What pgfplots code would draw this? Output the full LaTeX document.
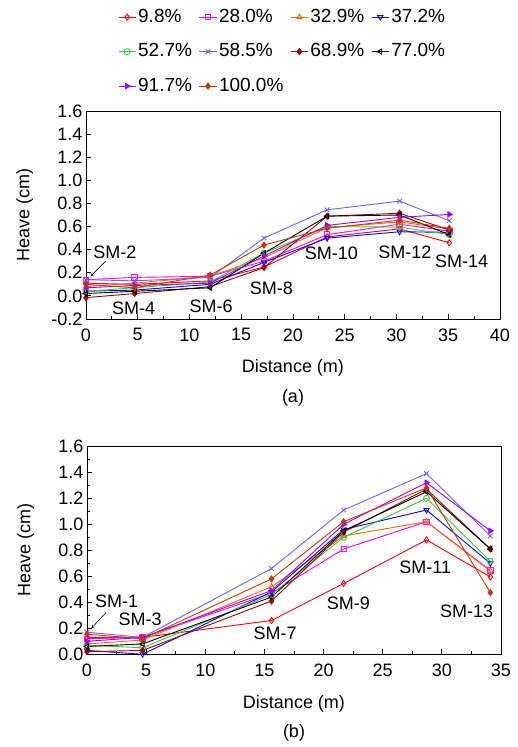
\documentclass[border=0pt]{standalone}
\usepackage{fontspec}
\setmainfont{Liberation Sans}
\usepackage{pgfplots}
\pgfplotsset{compat=1.18}
\definecolor{c98}{RGB}{255,0,0}
\definecolor{c280}{RGB}{255,0,255}
\definecolor{c329}{RGB}{255,102,0}
\definecolor{c372}{RGB}{0,0,255}
\definecolor{c527}{RGB}{51,204,51}
\definecolor{c585}{RGB}{102,102,255}
\definecolor{c689}{RGB}{153,0,0}
\definecolor{c770}{RGB}{0,0,0}
\definecolor{c917}{RGB}{153,0,255}
\definecolor{c100}{RGB}{204,51,0}
\pgfplotsset{
  heave/.style={
    scale only axis, width=414pt, height=208pt,
    axis line style={line width=0.9pt},
    tick align=inside, xtick pos=left, ytick pos=left,
    minor x tick num=1, minor y tick num=1,
    major tick length=5pt, minor tick length=3pt,
    every tick/.style={black, line width=0.8pt},
    /pgf/number format/assume math mode=true,
    yticklabel style={/pgf/number format/.cd, fixed, fixed zerofill, precision=1},
    xticklabel style={yshift=-6pt},
    xlabel={Distance (m)}, ylabel={Heave (cm)},
    xlabel style={at={(axis description cs:0.5,-0.236)}, anchor=center},
    ylabel style={at={(axis description cs:-0.148,0.5)}, anchor=center},
    clip=false,
    every axis plot/.append style={line width=0.9pt, mark size=3pt},
  },
  s98/.style={color=c98, mark=diamond, mark options={fill=white, solid}},
  s280/.style={color=c280, mark=square, mark options={fill=white, solid, scale=0.9}},
  s329/.style={color=c329, mark=triangle, mark options={fill=white, solid}},
  s372/.style={color=c372, mark=triangle, mark options={fill=white, solid, rotate=180}},
  s527/.style={color=c527, mark=o, mark options={fill=white, solid}},
  s585/.style={color=c585, mark=x, mark options={solid, scale=1.1}},
  s689/.style={color=c689, mark=diamond*, mark options={solid}},
  s770/.style={color=c770, mark=triangle, mark options={fill=white, solid, rotate=90}},
  s917/.style={color=c917, mark=triangle*, mark options={solid, rotate=-90}},
  s100/.style={color=c100, mark=diamond*, mark options={solid}},
}
\begin{document}
\begin{tikzpicture}[font=\fontsize{18}{21}\selectfont]
\useasboundingbox (0,0) rectangle (517pt,747pt);
% ---------- (a) ----------
\begin{axis}[heave, at={(86pt,428pt)}, anchor=south west,
  xmin=0, xmax=40, ymin=-0.2, ymax=1.6,
  xtick={0,5,...,40}, ytick={-0.2,0,0.2,...,1.6},
  legend columns=4,
  legend style={at={(axis description cs:0.07,1.51)}, anchor=north west,
    draw=none, fill=none, font=\fontsize{19}{22}\selectfont,
    nodes={text height=13pt, text depth=3pt},
    /tikz/every even column/.append style={column sep=5pt},
    /tikz/row sep=14.5pt},
  legend cell align=left]
\addplot[s98] coordinates {(0,0.11) (4.7,0.10) (12,0.13) (17.2,0.25) (23.3,0.51) (30.3,0.58) (35.1,0.46)};
\addlegendentry{9.8\%}
\addplot[s280] coordinates {(0,0.14) (4.7,0.16) (12,0.17) (17.2,0.30) (23.3,0.53) (30.3,0.62) (35.1,0.56)};
\addlegendentry{28.0\%}
\addplot[s329] coordinates {(0,0.08) (4.7,0.11) (12,0.17) (17.2,0.33) (23.3,0.59) (30.3,0.64) (35.1,0.58)};
\addlegendentry{32.9\%}
\addplot[s372] coordinates {(0,0.04) (4.7,0.05) (12,0.10) (17.2,0.29) (23.3,0.50) (30.3,0.555) (35.1,0.55)};
\addlegendentry{37.2\%}
\addplot[s527] coordinates {(0,0.04) (4.7,0.07) (12,0.12) (17.2,0.37) (23.3,0.60) (30.3,0.595) (35.1,0.53)};
\addlegendentry{52.7\%}
\addplot[s585] coordinates {(0,0.14) (4.7,0.13) (12,0.16) (17.2,0.50) (23.3,0.745) (30.3,0.82) (35.1,0.65)};
\addlegendentry{58.5\%}
\addplot[s689] coordinates {(0,-0.015) (4.7,0.02) (12,0.08) (17.2,0.245) (23.3,0.69) (30.3,0.715) (35.1,0.57)};
\addlegendentry{68.9\%}
\addplot[s770] coordinates {(0,0.02) (4.7,0.04) (12,0.07) (17.2,0.37) (23.3,0.69) (30.3,0.70) (35.1,0.53)};
\addlegendentry{77.0\%}
\addplot[s917] coordinates {(0,0.07) (4.7,0.09) (12,0.11) (17.2,0.345) (23.3,0.61) (30.3,0.68) (35.1,0.705)};
\addlegendentry{91.7\%}
\addplot[s100] coordinates {(0,0.10) (4.7,0.07) (12,0.18) (17.2,0.44) (23.3,0.585) (30.3,0.655) (35.1,0.585)};
\addlegendentry{100.0\%}
\node at (axis cs:2.8,0.38) {SM-2};
\draw[-stealth, line width=0.6pt] (axis cs:1.9,0.30) -- (axis cs:0.45,0.17);
\node at (axis cs:4.6,-0.11) {SM-4};
\node at (axis cs:12.1,-0.09) {SM-6};
\node at (axis cs:17.9,0.065) {SM-8};
\node at (axis cs:23.7,0.37) {SM-10};
\node at (axis cs:30.8,0.38) {SM-12};
\node at (axis cs:36.3,0.30) {SM-14};
\node at (axis description cs:0.5,-0.38) {(a)};
\end{axis}
% ---------- (b) ----------
\begin{axis}[heave, at={(87pt,92.7pt)}, anchor=south west,
  xmin=0, xmax=35, ymin=0, ymax=1.6,
  xtick={0,5,...,35}, ytick={0,0.2,...,1.6}]
\addplot[s98] coordinates {(0,0.13) (4.7,0.13) (15.6,0.26) (21.7,0.545) (28.7,0.88) (34.1,0.595)};
\addplot[s280] coordinates {(0,0.12) (4.7,0.13) (15.6,0.47) (21.7,0.81) (28.7,1.02) (34.1,0.645)};
\addplot[s329] coordinates {(0,0.08) (4.7,0.11) (15.6,0.52) (21.7,0.91) (28.7,1.02) (34.1,0.64)};
\addplot[s372] coordinates {(0,0.03) (4.7,0.00) (15.6,0.48) (21.7,0.96) (28.7,1.11) (34.1,0.70)};
\addplot[s527] coordinates {(0,0.07) (4.7,0.05) (15.6,0.46) (21.7,0.90) (28.7,1.20) (34.1,0.715)};
\addplot[s585] coordinates {(0,0.17) (4.7,0.13) (15.6,0.66) (21.7,1.11) (28.7,1.39) (34.1,0.91)};
\addplot[s689] coordinates {(0,0.02) (4.7,0.03) (15.6,0.41) (21.7,0.94) (28.7,1.27) (34.1,0.81)};
\addplot[s770] coordinates {(0,0.06) (4.7,0.08) (15.6,0.44) (21.7,0.95) (28.7,1.25) (34.1,0.81)};
\addplot[s917] coordinates {(0,0.10) (4.7,0.13) (15.6,0.49) (21.7,1.00) (28.7,1.32) (34.1,0.95)};
\addplot[s100] coordinates {(0,0.155) (4.7,0.12) (15.6,0.58) (21.7,1.02) (28.7,1.28) (34.1,0.475)};
\node at (axis cs:2.5,0.41) {SM-1};
\draw[-stealth, line width=0.6pt] (axis cs:1.6,0.32) -- (axis cs:0.37,0.20);
\node at (axis cs:4.5,0.27) {SM-3};
\node at (axis cs:15.9,0.16) {SM-7};
\node at (axis cs:22.1,0.39) {SM-9};
\node at (axis cs:28.6,0.67) {SM-11};
\node at (axis cs:32.1,0.33) {SM-13};
\node at (axis description cs:0.5,-0.38) {(b)};
\end{axis}
\end{tikzpicture}
\end{document}
